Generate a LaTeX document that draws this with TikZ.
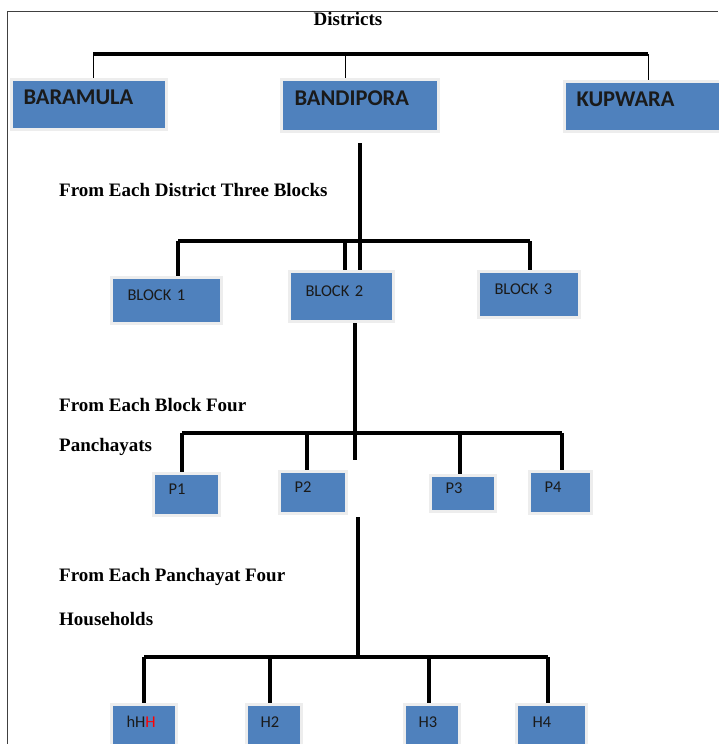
\documentclass[tikz,border=0pt]{standalone}
\usepackage{fontspec}
\setmainfont{Liberation Serif}
\newfontfamily\calibri{Carlito}
\usepackage{tikz}
\usetikzlibrary{shadows}
\definecolor{boxblue}{HTML}{4F81BD}
\definecolor{boxtext}{HTML}{1A1A1A}
\tikzstyle{bx}=[rectangle,anchor=north west,fill=boxblue,draw=black!7,line width=3pt,
    drop shadow={shadow xshift=1.5pt,shadow yshift=-1.5pt,fill=black!30,opacity=1},
    text=boxtext,align=left,inner ysep=0pt]
\tikzstyle{sz}=[minimum width=#1pt]
\tikzstyle{ht}=[text height=#1pt,text depth=#1pt]
\tikzstyle{dist}=[bx,font=\calibri\bfseries\fontsize{22.5}{22.5}\selectfont,inner xsep=12pt]
\tikzstyle{blk}=[bx,font=\calibri\fontsize{16.5}{16.5}\selectfont,inner xsep=16pt]
\tikzstyle{pan}=[bx,font=\calibri\fontsize{16.5}{16.5}\selectfont,inner xsep=15pt]
\tikzstyle{note}=[anchor=west,inner sep=0pt,font=\bfseries\fontsize{19}{19}\selectfont]
\tikzstyle{link}=[line width=3.5pt]
\tikzstyle{thinlink}=[line width=1pt]

\begin{document}
\begin{tikzpicture}[x=1pt,y=-1pt]
    \useasboundingbox (0,0) rectangle (718,744);
    % frame
    \draw[black!75,line width=0.8pt] (7,750) -- (7,11) -- (718,11);

    % districts
    \node[inner sep=0pt,font=\bfseries\fontsize{19}{19}\selectfont] (title) at (348,19) {Districts};
    \node[dist,sz=155,ht=25,text width=131pt] (baramula) at (10,78) {BARAMULA};
    \node[dist,sz=157,ht=26,text width=131pt] (bandipora) at (280,78) {BANDIPORA};
    \node[dist,sz=160,ht=25,text width=136pt] (kupwara) at (563,80) {KUPWARA};
    \coordinate (d1) at (93,54);
    \coordinate (d2) at (345,54);
    \coordinate (d3) at (648,54);
    \draw[thinlink] (d1) -- (d1 |- baramula.north);
    \draw[thinlink] (d2) -- (d2 |- bandipora.north);
    \draw[thinlink] (d3) -- (d3 |- kupwara.north);
    \draw[line width=4.5pt] (d1) -- (d3);

    % blocks
    \node[note] (n1) at (59,190) {From Each District Three Blocks};
    \node[blk,sz=110,ht=23,text width=78pt] (blk1) at (110,276) {BLOCK 1};
    \node[blk,sz=104,ht=25,text width=72pt] (blk2) at (288,270) {BLOCK 2};
    \node[blk,sz=101,ht=23,text width=69pt] (blk3) at (477,270) {BLOCK 3};
    \coordinate (b0) at (360,143);
    \coordinate (b1) at (178,241);
    \coordinate (b2) at (345,241);
    \coordinate (b3) at (530,241);
    \draw[link] (b0) -- (b0 |- blk2.north);
    \draw[link] (b1) -- (b3);
    \draw[link] (b1) -- (b1 |- blk1.north);
    \draw[link] (b2) -- (b2 |- blk2.north);
    \draw[link] (b3) -- (b3 |- blk3.north);

    % panchayats
    \node[note] (n2) at (59,405) {From Each Block Four};
    \node[note] (n3) at (59,447) {Panchayats};
    \node[pan,sz=66,ht=21,text width=36pt] (p1) at (152,472) {P1};
    \node[pan,sz=67,ht=21,text width=37pt] (p2) at (278,470) {P2};
    \node[pan,sz=65,ht=18,text width=35pt] (p3) at (429,474) {P3};
    \node[pan,sz=62,ht=21,text width=32pt] (p4) at (528,470) {P4};
    \coordinate (c0) at (355,460);
    \coordinate (c1) at (182,433);
    \coordinate (c2) at (307,433);
    \coordinate (c3) at (460,433);
    \coordinate (c4) at (562,433);
    \draw[link] (blk2.south -| c0) -- (c0);
    \draw[link] (c1) -- (c4);
    \draw[link] (c1) -- (c1 |- p1.north);
    \draw[link] (c2) -- (c2 |- p2.north);
    \draw[link] (c3) -- (c3 |- p3.north);
    \draw[link] (c4) -- (c4 |- p4.north);

    % households
    \node[note] (n4) at (59,577) {From Each Panchayat Four};
    \node[note] (n5) at (59,619) {Households};
    \node[pan,sz=65,ht=23,text width=35pt] (h1) at (110,703) {hH\textcolor{red}{H}};
    \node[pan,sz=55,ht=23,text width=27pt,inner xsep=14pt] (h2) at (245,703) {H2};
    \node[pan,sz=55,ht=23,text width=27pt,inner xsep=14pt] (h3) at (403,703) {H3};
    \node[pan,sz=70,ht=23,text width=38pt,inner xsep=16pt] (h4) at (515,703) {H4};
    \coordinate (e0) at (358,517);
    \coordinate (e1) at (144,657);
    \coordinate (e2) at (270,657);
    \coordinate (e3) at (429,657);
    \coordinate (e4) at (548,657);
    \draw[link] (e0) -- (e0 |- e1);
    \draw[link] (e1) -- (e4);
    \draw[link] (e1) -- (e1 |- h1.north);
    \draw[link] (e2) -- (e2 |- h2.north);
    \draw[link] (e3) -- (e3 |- h3.north);
    \draw[link] (e4) -- (e4 |- h4.north);
\end{tikzpicture}
\end{document}
